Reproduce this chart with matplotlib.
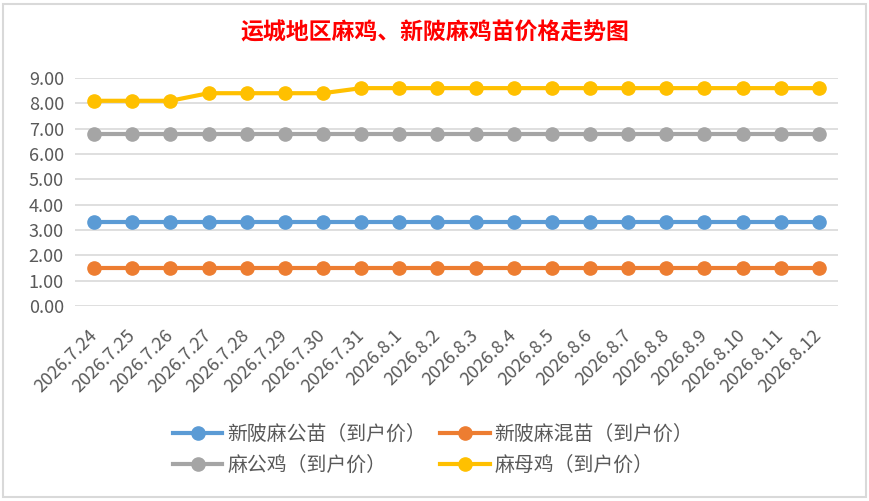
import numpy as np
import matplotlib.pyplot as plt
from matplotlib.patches import Rectangle

plt.rcParams['font.family'] = ['Noto Sans CJK SC', 'DejaVu Sans']

dates = ['2026.7.24', '2026.7.25', '2026.7.26', '2026.7.27', '2026.7.28',
         '2026.7.29', '2026.7.30', '2026.7.31', '2026.8.1', '2026.8.2',
         '2026.8.3', '2026.8.4', '2026.8.5', '2026.8.6', '2026.8.7',
         '2026.8.8', '2026.8.9', '2026.8.10', '2026.8.11', '2026.8.12']
gong_miao = [3.3] * 20
hun_miao = [1.5] * 20
gong_ji = [6.8] * 20
mu_ji = [8.1, 8.1, 8.1, 8.4, 8.4, 8.4, 8.4, 8.6, 8.6, 8.6,
         8.6, 8.6, 8.6, 8.6, 8.6, 8.6, 8.6, 8.6, 8.6, 8.6]

names = ['新陂麻公苗（到户价）', '新陂麻混苗（到户价）', '麻公鸡（到户价）', '麻母鸡（到户价）']
colors = ['#5B9BD5', '#ED7D31', '#A5A5A5', '#FFC000']

fig = plt.figure(figsize=(8.7, 5.01), dpi=100)
fig.patches.append(Rectangle((3 / 870, 4 / 501), 863 / 870, 493 / 501,
                             transform=fig.transFigure, fill=False,
                             edgecolor='#D9D9D9', linewidth=1.5))

ax = fig.add_axes([75 / 870, 1 - 306 / 501, 763 / 870, 228 / 501])
x = np.arange(len(dates))
lines = []
for vals, name, c in zip([gong_miao, hun_miao, gong_ji, mu_ji], names, colors):
    ln, = ax.plot(x, vals, color=c, lw=3, marker='o', ms=9.5, label=name, zorder=3)
    lines.append(ln)

ax.set_xlim(-0.5, len(dates) - 0.5)
ax.set_ylim(0, 9)
ax.set_yticks(np.arange(0, 9.5, 1))
ax.set_yticklabels([f'{v:.2f}' for v in np.arange(0, 9.5, 1)])
ax.set_xticks(x)
ax.set_xticklabels(dates, rotation=45, ha='right', va='center', rotation_mode='anchor')
ax.grid(axis='y', color='#D9D9D9', lw=1.2, zorder=0)
for s in ax.spines.values():
    s.set_visible(False)
ax.tick_params(length=0, labelcolor='#595959', labelsize=13)
ax.tick_params(axis='x', pad=19)
ax.tick_params(axis='y', pad=8)

fig.text(0.5, 1 - 33 / 501, '运城地区麻鸡、新陂麻鸡苗价格走势图', color='#FF0000',
         fontsize=16.5, fontweight='bold', ha='center', va='center')

# row-major order like the original: blue, orange / gray, yellow
order = [0, 2, 1, 3]
fig.legend([lines[i] for i in order], [names[i] for i in order],
           loc='center', bbox_to_anchor=(433 / 870, 1 - 450 / 501), ncol=2,
           frameon=False, fontsize=14.3, labelcolor='#595959', handlelength=2.5,
           columnspacing=0.7, handletextpad=0.25, labelspacing=0.5)

fig.savefig('out.png', dpi=100)
